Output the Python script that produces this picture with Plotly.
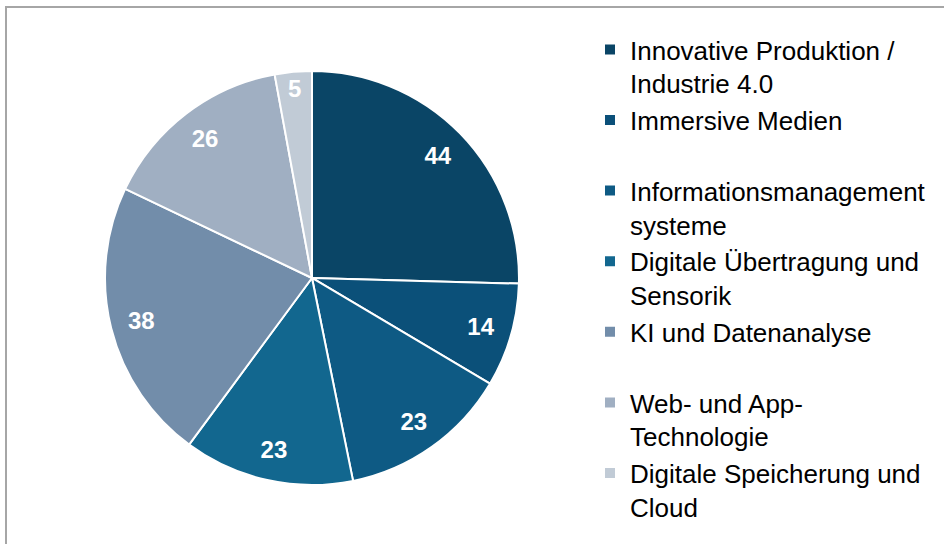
import plotly.graph_objects as go

# data
labels = [
    "Innovative Produktion /<br>Industrie 4.0",
    "Immersive Medien<br>\u00a0",
    "Informationsmanagement<br>systeme",
    "Digitale Übertragung und<br>Sensorik",
    "KI und Datenanalyse<br>\u00a0",
    "Web- und App-<br>Technologie",
    "Digitale Speicherung und<br>Cloud",
]
values = [44, 14, 23, 23, 38, 26, 5]
colors = ["#0A4566", "#0B5079", "#0E5A84", "#12678F", "#728DAA", "#A0AFC2", "#C1CBD6"]

pie_domain = dict(x=[0.1112, 0.5498], y=[0.1085, 0.8695])

fig = go.Figure()

# main pie with slices + legend
fig.add_trace(go.Pie(
    labels=labels,
    values=values,
    sort=False,
    direction="clockwise",
    marker=dict(colors=colors, line=dict(color="white", width=2)),
    textinfo="none",
    hoverinfo="label+value",
    domain=pie_domain,
))

# transparent ring on top, only to place the numbers near the rim
fig.add_trace(go.Pie(
    labels=labels,
    values=values,
    sort=False,
    direction="clockwise",
    hole=0.7,
    marker=dict(colors=["rgba(0,0,0,0)"] * len(values), line=dict(width=0)),
    textinfo="value",
    textposition="inside",
    insidetextorientation="horizontal",
    textfont=dict(family="Liberation Sans", size=24, color="white", weight="bold"),
    hoverinfo="skip",
    showlegend=False,
    domain=pie_domain,
))

# frame around the slide region
fig.add_shape(
    type="rect", xref="paper", yref="paper",
    x0=6 / 944, x1=1.05, y0=-0.05, y1=1 - 7 / 544,
    line=dict(color="#A6A6A6", width=2),
)

fig.update_layout(
    width=944,
    height=544,
    margin=dict(l=0, r=0, t=0, b=0),
    paper_bgcolor="white",
    plot_bgcolor="white",
    font=dict(family="Liberation Sans", color="black"),
    legend=dict(
        x=590 / 944, xanchor="left",
        y=1 - 26 / 544, yanchor="top",
        font=dict(family="Liberation Sans", size=26, color="black"),
        valign="top",
        bgcolor="rgba(0,0,0,0)",
    ),
)

# page has a default body margin; drop it so the figure sits at 0,0
fig.write_html(
    "out.html",
    config={"displayModeBar": False},
    post_script="document.body.style.margin='0';",
)
